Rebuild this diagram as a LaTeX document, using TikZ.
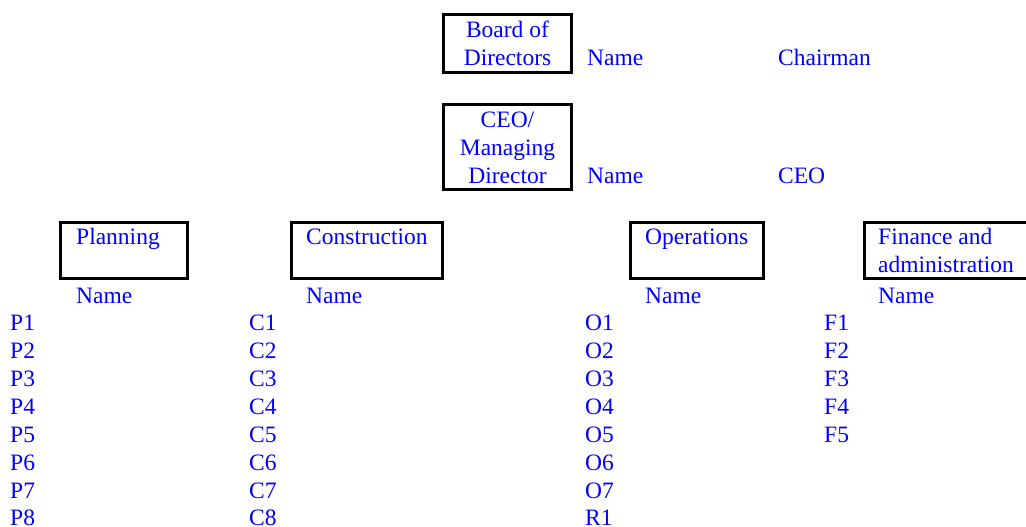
\documentclass[tikz,border=0pt]{standalone}
\usepackage{fontspec}
\setmainfont{Liberation Serif}
\definecolor{txtblue}{RGB}{0,0,255}
\begin{document}
\begin{tikzpicture}[x=1pt,y=-1pt,
  box/.style={draw=black, line width=3pt, inner sep=0pt, fill=none},
  lbl/.style={text=txtblue, inner sep=0pt, anchor=base west, font=\fontsize{23.5}{28}\selectfont},
  clbl/.style={lbl, anchor=base}]
\useasboundingbox (0,0) rectangle (1026,527);
% top boxes
\node[box, minimum width=128pt, minimum height=57.7pt] (board) at (507.5,43.65) {};
\node[box, minimum width=128pt, minimum height=85.6pt] (ceo) at (507.5,147) {};
\node[clbl] (boardt1) at (507.5,38) {Board of};
\node[clbl] (boardt2) at (507.5,66) {Directors};
\node[clbl] (ceot1) at (507.5,127) {CEO/};
\node[clbl] (ceot2) at (507.5,155) {Managing};
\node[clbl] (ceot3) at (507.5,183) {Director};
\node[lbl] (bname) at (587,66) {Name};
\node[lbl] (chair) at (778,66) {Chairman};
\node[lbl] (cname) at (587,183) {Name};
\node[lbl] (ceorole) at (778,183) {CEO};
% department boxes
\node[box, minimum width=127pt, minimum height=56.3pt] (plan) at (124.3,250.35) {};
\node[box, minimum width=151.3pt, minimum height=56.3pt] (cons) at (367.15,250.35) {};
\node[box, minimum width=132.7pt, minimum height=56.3pt] (oper) at (697.15,250.35) {};
\node[box, minimum width=180pt, minimum height=56.3pt] (fin) at (954.2,250.35) {};
\node[lbl] (plant) at (76,244) {Planning};
\node[lbl] (const) at (306,244) {Construction};
\node[lbl] (opert) at (645,244) {Operations};
\node[lbl] (fint1) at (878,244) {Finance and};
\node[lbl] (fint2) at (878,272) {administration};
\node[lbl] (pname) at (76,303) {Name};
\node[lbl] (csname) at (306,303) {Name};
\node[lbl] (oname) at (645,303) {Name};
\node[lbl] (fname) at (878,303) {Name};
% lists
\foreach \i in {1,...,7} {
  \node[lbl] (p\i) at (10,{330+(\i-1)*28}) {P\i};
  \node[lbl] (c\i) at (249,{330+(\i-1)*28}) {C\i};
  \node[lbl] (o\i) at (585,{330+(\i-1)*28}) {O\i};
}
\node[lbl] (p8) at (10,525) {P8};
\node[lbl] (c8) at (249,525) {C8};
\node[lbl] (r1) at (585,525) {R1};
\foreach \i in {1,...,5} {
  \node[lbl] (f\i) at (824,{330+(\i-1)*28}) {F\i};
}
\end{tikzpicture}
\end{document}
